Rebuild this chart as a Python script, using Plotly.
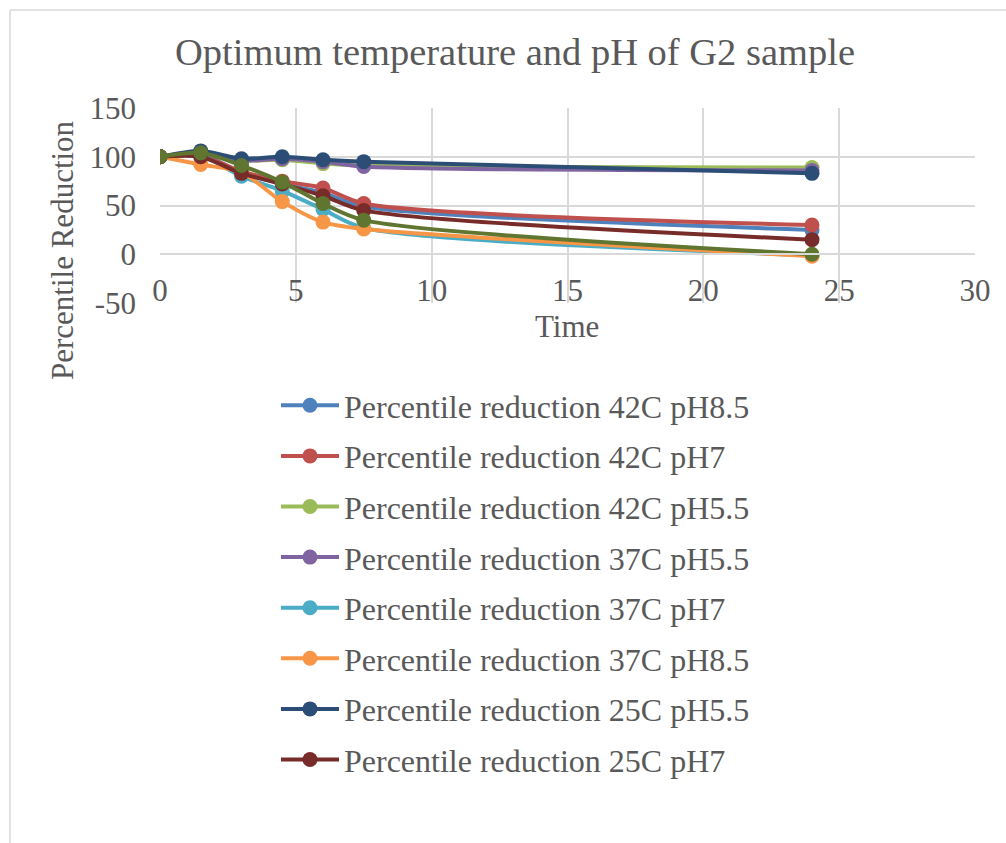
import plotly.graph_objects as go

time = [0, 1.5, 3, 4.5, 6, 7.5, 24]

names = [
    "Percentile reduction 42C pH8.5",
    "Percentile reduction 42C pH7",
    "Percentile reduction 42C pH5.5",
    "Percentile reduction 37C pH5.5",
    "Percentile reduction 37C pH7",
    "Percentile reduction 37C pH8.5",
    "Percentile reduction 25C pH5.5",
    "Percentile reduction 25C pH7",
    "Percentile reduction 25C pH8.5",
]

r42_ph85 = [100, 102, 84, 72, 63, 49, 25]
r42_ph7 = [100, 101, 85, 75, 68, 52, 30]
r42_ph55 = [100, 103, 96, 97, 93, 91, 89]
r37_ph55 = [100, 103, 96, 98, 95, 90, 86]
r37_ph7 = [100, 101, 80, 65, 46, 27, -1]
r37_ph85 = [100, 92, 84, 54, 33, 26, -2]
r25_ph55 = [100, 106, 98, 100, 97, 95, 83]
r25_ph7 = [100, 100, 83, 72, 60, 45, 15]
r25_ph85 = [100, 104, 91, 74, 52, 35, 0]

y_ticks = [-50, 0, 50, 100, 150]
y_tick_text = ["-50", "0", "50", "100", "150"]

series = [r42_ph85, r42_ph7, r42_ph55, r37_ph55, r37_ph7, r37_ph85, r25_ph55, r25_ph7, r25_ph85]
colors = ["#4F81BD", "#C0504D", "#9BBB59", "#8064A2", "#4BACC6", "#F79646",
          "#2C4D75", "#772C2A", "#5F7530"]
show_leg = [True] * 8 + [False]

FONT = "Liberation Serif, Times New Roman, serif"
TXT = "#595959"

fig = go.Figure()
for i, (nm, ys, c, sl) in enumerate(zip(names, series, colors, show_leg)):
    fig.add_trace(go.Scatter(
        x=time, y=ys, name=nm, mode="lines+markers",
        line=dict(color=c, width=4, shape="spline", smoothing=0.8),
        marker=dict(color=c, size=15),
        showlegend=sl, legendgroup=f"g{i}",
    ))

L, R, T, B = 160, 975, 108, 303
W, H = 1006, 843

def px(x):
    return (x - L) / (R - L)

def py(y):
    return (B - y) / (B - T)

fig.update_layout(
    width=W, height=H,
    margin=dict(l=L, r=W - R, t=T, b=H - B),
    paper_bgcolor="white", plot_bgcolor="white",
    font=dict(family=FONT, size=31, color=TXT),
    title=dict(text="Optimum temperature and pH of G2 sample",
               font=dict(family=FONT, size=38.5, color=TXT),
               x=515 / W, xanchor="center", xref="container",
               y=1 - 52 / H, yanchor="middle", yref="container"),
    xaxis=dict(range=[0, 30], dtick=5, tick0=0, showgrid=True, gridcolor="#D9D9D9",
               gridwidth=1.5, zeroline=False, showline=True, linecolor="#D9D9D9",
               linewidth=1.5, anchor="free", position=0.25, ticks="",
               ticklabelstandoff=9, tickfont=dict(family=FONT, size=31, color=TXT)),
    yaxis=dict(range=[-50, 150], tickvals=y_ticks, ticktext=y_tick_text,
               showgrid=True, gridcolor="#D9D9D9",
               gridwidth=1.5, zeroline=False, ticks="", ticklabelstandoff=23,
               tickfont=dict(family=FONT, size=31, color=TXT)),
    legend=dict(x=px(276), y=py(378), xanchor="left", yanchor="top",
                font=dict(family=FONT, size=32, color=TXT),
                traceorder="grouped", tracegroupgap=6, itemwidth=58,
                maxheight=700, bgcolor="rgba(0,0,0,0)"),
    showlegend=True,
)

fig.add_annotation(text="Time", x=px(567), y=py(326), xref="paper", yref="paper",
                   xanchor="center", yanchor="middle",
                   showarrow=False, font=dict(family=FONT, size=31, color=TXT))
fig.add_annotation(text="Percentile Reduction", x=px(62), y=py(250), xref="paper", yref="paper",
                   xanchor="center", yanchor="middle",
                   showarrow=False, textangle=-90, font=dict(family=FONT, size=31, color=TXT))

# chart-area border
fig.add_shape(type="line", xref="paper", yref="paper", x0=px(10), x1=px(10), y0=py(10), y1=py(843),
              line=dict(color="#D9D9D9", width=1.5))
fig.add_shape(type="line", xref="paper", yref="paper", x0=px(10), x1=px(1006), y0=py(10), y1=py(10),
              line=dict(color="#D9D9D9", width=1.5))

fig.write_html("out.html")
